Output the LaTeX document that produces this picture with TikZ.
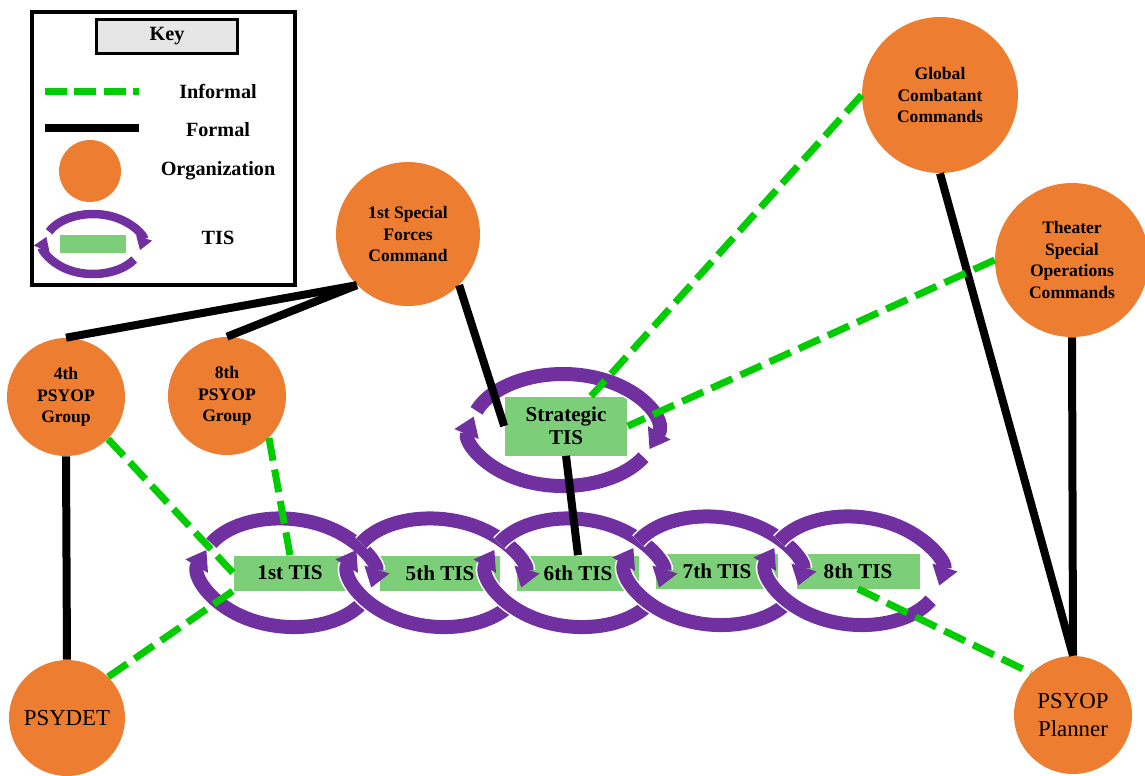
\documentclass[tikz,border=0pt]{standalone}
\usepackage{fontspec}
\setmainfont{Liberation Serif}
\usetikzlibrary{positioning, arrows.meta}

\definecolor{orgorange}{HTML}{ED7D31}
\definecolor{tispurple}{HTML}{7030A0}
\definecolor{tisgreen}{RGB}{124,207,120}
\definecolor{infgreen}{RGB}{0,204,0}
\definecolor{keygray}{RGB}{231,230,230}

\tikzset{
  org/.style={circle, fill=orgorange, inner sep=0pt, align=center, font=\fontsize{10}{12.2}\selectfont\bfseries},
  tisbox/.style={rectangle, fill=tisgreen, inner sep=0pt, minimum height=0.7cm, align=center, font=\fontsize{12}{13}\selectfont\bfseries},
  formal/.style={draw=black, line width=0.16cm},
  informal/.style={draw=infgreen, line width=0.14cm, dash pattern=on 0.46cm off 0.18cm},
  ring/.style={draw=tispurple, line width=0.28cm, -{Triangle[width=0.5cm, length=0.38cm]}, preaction={draw=white, line width=0.34cm, -, shorten >=0.36cm}},
  keyring/.style={draw=tispurple, line width=0.17cm, -{Triangle[width=0.32cm, length=0.26cm]}},
  keylabel/.style={font=\fontsize{11.5}{13}\selectfont\bfseries}
}

\begin{document}
\begin{tikzpicture}[x=0.02cm, y=-0.02cm]
    \useasboundingbox (0,0) rectangle (1145,775);

    % Key
    \draw[line width=0.08cm] (32,12) rectangle (295,285);
    \node[draw, line width=0.06cm, fill=keygray, minimum width=2.82cm, minimum height=0.68cm, keylabel] (keytitle) at (167,36) {Key};
    \coordinate (infa) at (45,91);
    \coordinate (infb) at (139,91);
    \draw[informal, dash pattern=on 0.44cm off 0.15cm] (infa) -- (infb);
    \coordinate (fora) at (45,128);
    \coordinate (forb) at (139,128);
    \draw[formal] (fora) -- (forb);
    \node[circle, fill=orgorange, minimum size=1.24cm] (keyorg) at (90,171) {};
    \node[rectangle, fill=tisgreen, inner sep=0pt, minimum width=1.34cm, minimum height=0.36cm] (keytis) at (93,244) {};
    \draw[keyring] (keytis.center) ++(204:48 and 30) arc[start angle=204, end angle=372, x radius=48, y radius=30];
    \draw[keyring] (keytis.center) ++(31:48 and 30) arc[start angle=31, end angle=194, x radius=48, y radius=30];
    \node[keylabel] (kinf) at (218,91) {Informal};
    \node[keylabel] (kfor) at (218,130) {Formal};
    \node[keylabel] (korg) at (218,171) {Organization};
    \node[keylabel] (ktis) at (218,238) {TIS};

    % Organizations
    \node[org, minimum size=2.88cm] (sfc) at (408,234) {1st Special\\Forces\\Command};
    \node[org, minimum size=3.12cm] (gcc) at (940,95) {Global\\Combatant\\Commands};
    \node[org, minimum size=3.08cm] (tsoc) at (1072,260) {Theater\\Special\\Operations\\Commands};
    \node[org, minimum size=2.36cm] (g4) at (66,397) {4th\\PSYOP\\Group};
    \node[org, minimum size=2.36cm] (g8) at (227,396) {8th\\PSYOP\\Group};
    \node[org, minimum size=2.32cm, font=\fontsize{13}{16}\selectfont] (psydet) at (67,718) {PSYDET};
    \node[org, minimum size=2.36cm, font=\fontsize{13}{16}\selectfont] (planner) at (1073,715) {PSYOP\\Planner};

    % TIS boxes
    \node[tisbox, minimum width=2.46cm, minimum height=1.18cm] (strat) at (566,426) {Strategic\\TIS};
    \foreach \n/\x/\y/\w/\lbl in {t1/290/573/2.26/1st TIS, t5/440/573/2.42/5th TIS, t6/578/573/2.44/6th TIS, t7/717/571/2.44/7th TIS, t8/858/571/2.46/8th TIS} {
      \node[tisbox, minimum width=\w cm] (\n) at (\x,\y) {\lbl};
    }

    % TIS rings
    \foreach \n in {t1,t5,t6,t7,t8} {
      \begin{scope}[shift={(\n.center)}, rotate=-5]
        \draw[ring] (-3,0) ++(205:86 and 54) arc[start angle=205, end angle=368, x radius=86, y radius=54];
        \draw[ring] (-3,0) ++(25:86 and 54) arc[start angle=25, end angle=197, x radius=86, y radius=54];
      \end{scope}
    }
    \draw[ring] (strat.center) ++(-3,4) ++(200:92 and 56) arc[start angle=200, end angle=380, x radius=92, y radius=56];
    \draw[ring] (strat.center) ++(-3,4) ++(29:92 and 56) arc[start angle=29, end angle=194, x radius=92, y radius=56];

    % Formal links
    \draw[formal] (sfc.south west) -- (g4.north);
    \draw[formal] (sfc.south west) -- (g8.north);
    \draw[formal] (sfc.south east) -- (strat.west);
    \draw[formal] (strat.south) -- (t6.north);
    \draw[formal] (g4.south) -- (psydet.north);
    \draw[formal] (gcc.south) -- (planner.north);
    \draw[formal] (tsoc.south) -- (planner.north);

    % Informal links
    \draw[informal] (gcc.west) -- (strat.50);
    \draw[informal] (tsoc.west) -- (strat.east);
    \draw[informal] (g4.south east) -- (t1.west);
    \draw[informal] (g8.south east) -- (t1.north);
    \draw[informal] (psydet.north east) -- (t1.south west);
    \draw[informal] (t8.south) -- (planner.north west);
\end{tikzpicture}
\end{document}
